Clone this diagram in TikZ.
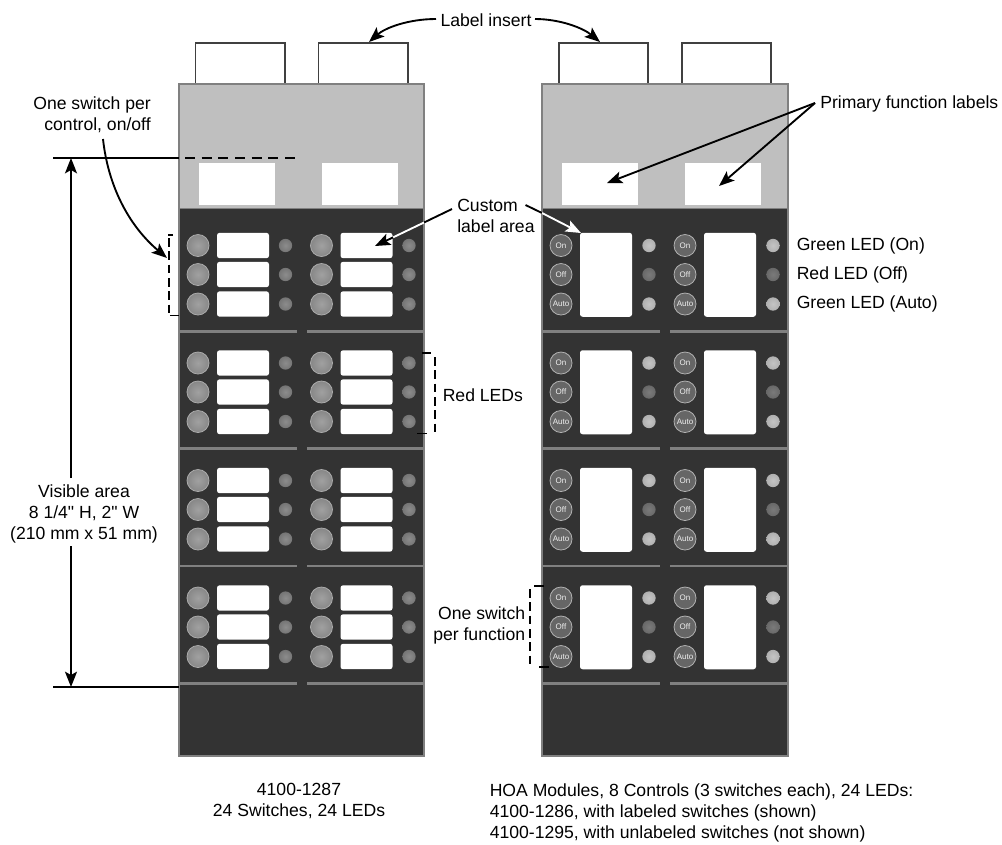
\documentclass[tikz,border=0pt]{standalone}
\usepackage{fontspec}
\setmainfont{Liberation Sans}[Ligatures=TeXOff]
\usetikzlibrary{arrows.meta}
\definecolor{paneldark}{HTML}{333333}
\definecolor{panelgray}{HTML}{BFBFBF}
\definecolor{edgegray}{HTML}{808080}
\pgfdeclareradialshading{btnshade}{\pgfpointorigin}{rgb(0bp)=(.63,.63,.63); rgb(25bp)=(.53,.53,.53); rgb(50bp)=(.35,.35,.35)}
\pgfdeclareradialshading{ledshade}{\pgfpointorigin}{rgb(0bp)=(.55,.55,.55); rgb(25bp)=(.46,.46,.46); rgb(50bp)=(.33,.33,.33)}
\pgfdeclareradialshading{redshade}{\pgfpointorigin}{rgb(0bp)=(.48,.48,.48); rgb(25bp)=(.41,.41,.41); rgb(50bp)=(.29,.29,.29)}
\pgfdeclareradialshading{greenshade}{\pgfpointorigin}{rgb(0bp)=(.77,.77,.77); rgb(25bp)=(.69,.69,.69); rgb(50bp)=(.52,.52,.52)}
\tikzset{
  x=0.75pt,y=-0.75pt,
  every node/.style={font=\fontsize{13.2}{15.75}\selectfont,text=black,inner sep=0pt},
  panelbody/.style={fill=paneldark,draw=edgegray,line width=1.5pt},
  paneltop/.style={fill=panelgray,draw=edgegray,line width=1.5pt},
  insertbox/.style={fill=white,draw=black!75,line width=0.8pt},
  window/.style={fill=white,draw=none},
  sepline/.style={draw=edgegray,line width=1.9pt},
  legend/.style={rectangle,rounded corners=1.9pt,fill=white,minimum width=39pt,minimum height=19pt},
  tall/.style={rectangle,rounded corners=1.9pt,fill=white,minimum width=39pt,minimum height=63pt},
  plainsw/.style={circle,minimum size=16.5pt,draw=black!33,line width=0.6pt,shade,shading=btnshade},
  labsw/.style={circle,minimum size=16.5pt,draw=black!30,line width=0.6pt,fill=black!60,text=black!6,font=\fontsize{6}{6}\selectfont},
  dimled/.style={circle,minimum size=10pt,shade,shading=ledshade},
  redled/.style={circle,minimum size=10pt,shade,shading=redshade},
  greenled/.style={circle,minimum size=10pt,shade,shading=greenshade},
  bigtip/.style={-{Stealth[length=11.5pt,width=9pt,inset=2.5pt]}},
  callout/.style={bigtip,draw=black,line width=1.4pt},
  whitecallout/.style={bigtip,draw=white,line width=1.4pt},
  blackrun/.style={draw=black,line width=1.4pt},
  whiterun/.style={draw=white,line width=1.4pt},
  dimbar/.style={draw=black,line width=1.9pt},
  dashbar/.style={draw=black,line width=1.4pt,dash pattern=on 7.5pt off 5pt},
  bracketbar/.style={draw=black,line width=1.4pt,dash pattern=on 6.4pt off 3.6pt},
  tick/.style={draw=black,line width=1.4pt},
}
\newcommand{\plainmodule}[3]{% column x, y, id
  \foreach \rr/\dy in {1/0,2/29,3/58.5}{
    \node[plainsw] (s#3\rr) at (#1,#2+\dy) {};
    \node[legend] (b#3\rr) at (#1+45,#2+\dy) {};
    \node[dimled] (d#3\rr) at (#1+87.5,#2+\dy) {};
  }
}
\newcommand{\labelmodule}[3]{% column x, y, id
  \node[labsw] (h#3a) at (#1,#2) {On};
  \node[labsw] (h#3b) at (#1,#2+29) {Off};
  \node[labsw] (h#3c) at (#1,#2+58.5) {Auto};
  \node[tall] (t#3) at (#1+45,#2+29.25) {};
  \node[greenled] (g#3a) at (#1+88,#2) {};
  \node[redled] (g#3b) at (#1+88,#2+29) {};
  \node[greenled] (g#3c) at (#1+88,#2+58.5) {};
}
\begin{document}
\begin{tikzpicture}
\useasboundingbox (0,0) rectangle (1002,844);
% label inserts
\foreach \i/\xa/\xb in {a/195.5/285,b/318.5/408,c/559/648,d/682/771}
  \draw[insertbox] (\xa,84) -- (\xa,43) -- (\xb,43) -- (\xb,84);
% panels
\foreach \xa/\xb in {179/424,542/787.5}{
  \draw[panelbody] (\xa,84) rectangle (\xb,756);
  \path[paneltop] (\xa,84) rectangle (\xb,209);
  \fill[paneldark] (\xa+1,209) rectangle (\xb-1,230);
}
% windows
\foreach \xa in {199,322,562,685}
  \fill[window] (\xa,163) rectangle (\xa+76,205);
% separators
\foreach \yy in {331.5,448.5,566,683.5}{
  \draw[sepline] (180,\yy) -- (297,\yy);
  \draw[sepline] (307,\yy) -- (423.5,\yy);
  \draw[sepline] (543,\yy) -- (660,\yy);
  \draw[sepline] (670,\yy) -- (786.5,\yy);
}
% modules
\foreach \m/\yy in {1/245.5,2/363,3/480.5,4/598}{
  \plainmodule{198}{\yy}{l\m}
  \plainmodule{321.5}{\yy}{r\m}
  \labelmodule{561}{\yy}{p\m}
  \labelmodule{685}{\yy}{q\m}
}
% dimension
\coordinate (dimtopL) at (53,158);
\coordinate (dimtopP) at (179,158);
\coordinate (dimtopD) at (185,158);
\coordinate (dimtopE) at (297,158);
\coordinate (dimbotL) at (53,687);
\coordinate (dimbotP) at (179,687);
\coordinate (arrtop) at (71,158);
\coordinate (arrbot) at (71,687);
\draw[dimbar] (dimtopL) -- (dimtopP);
\draw[dimbar] (dimbotL) -- (dimbotP);
\draw[dashbar] (dimtopD) -- (dimtopE);
\node[align=center,inner ysep=1pt] (vis) at (84,514) {Visible area\\8 1/4" H, 2" W\\(210 mm x 51 mm)};
\coordinate (visN) at (71,478);
\coordinate (visS) at (71,546);
\draw[callout] (visN) -- (arrtop);
\draw[callout] (visS) -- (arrbot);
% texts
\node (ins) at (486,20) {Label insert};
\node[anchor=west] (prim) at (820,104) {Primary function labels};
\node[anchor=east,align=right] (oneper) at (151,114.5) {One switch per\\control, on/off};
\node[anchor=west,align=left] (custom) at (457,215.5) {Custom\\label area};
\node[anchor=west] (gon) at (796.5,246) {Green LED (On)};
\node[anchor=west] (roff) at (796.5,275) {Red LED (Off)};
\node[anchor=west] (gauto) at (796.5,304) {Green LED (Auto)};
\node[anchor=west] (redl) at (442.5,395) {Red LEDs};
\node[anchor=east,align=right] (onesw) at (525.5,625.5) {One switch\\per function};
\node[align=center] (m1) at (299,800.5) {4100-1287\\24 Switches, 24 LEDs};
\node[anchor=west,align=left] (m2) at (489.5,813) {HOA Modules, 8 Controls (3 switches each), 24 LEDs:\\4100-1286, with labeled switches (shown)\\4100-1295, with unlabeled switches (not shown)};
% callouts
\coordinate (insA) at (436,19);
\coordinate (insB) at (535,19);
\coordinate (insAt) at (369,42);
\coordinate (insBt) at (600,42);
\draw[callout] (insA) .. controls (408,19) and (385,28) .. (insAt);
\draw[callout] (insB) .. controls (560,19) and (583,28) .. (insBt);
\coordinate (oneS) at (103,139);
\coordinate (oneE) at (167,258);
\draw[callout] (oneS) .. controls (108,185) and (128,225) .. (oneE);
\coordinate (primS) at (815,103);
\coordinate (primA) at (607,183);
\coordinate (primB) at (719,186);
\draw[callout] (primS) -- (primA);
\draw[callout] (primS) -- (primB);
\coordinate (cuLs) at (452,209);
\coordinate (cuLm) at (424,222.5);
\coordinate (cuLw) at (393,237.4);
\coordinate (cuLe) at (375,246);
\draw[blackrun] (cuLs) -- (cuLm);
\draw[whiterun] (cuLm) -- (cuLw);
\draw[callout] (cuLw) -- (cuLe);
\coordinate (cuRs) at (525.5,205);
\coordinate (cuRm) at (542,213);
\coordinate (cuRe) at (581,233);
\draw[blackrun] (cuRs) -- (cuRm);
\draw[whitecallout] (cuRm) -- (cuRe);
% brackets
\coordinate (b1a) at (169,238);
\coordinate (b1b) at (169,313);
\coordinate (b1c) at (173,235);
\coordinate (b1e) at (168,235);
\coordinate (b1d) at (179,315.5);
\coordinate (b1f) at (170,315.5);
\draw[bracketbar] (b1a) -- (b1b);
\draw[tick] (b1c) -- (b1e);
\draw[tick] (b1d) -- (b1f);
\coordinate (b2a) at (435,357);
\coordinate (b2b) at (435,434);
\coordinate (b2c) at (421.5,353);
\coordinate (b2e) at (431,353);
\coordinate (b2d) at (417,433.5);
\coordinate (b2f) at (427,433.5);
\draw[bracketbar] (b2a) -- (b2b);
\draw[tick] (b2c) -- (b2e);
\draw[tick] (b2d) -- (b2f);
\coordinate (b3a) at (530,589);
\coordinate (b3b) at (530,667);
\coordinate (b3c) at (544,586);
\coordinate (b3e) at (534,586);
\coordinate (b3d) at (549,667);
\coordinate (b3f) at (539,667);
\draw[bracketbar] (b3a) -- (b3b);
\draw[tick] (b3c) -- (b3e);
\draw[tick] (b3d) -- (b3f);
\end{tikzpicture}
\end{document}
